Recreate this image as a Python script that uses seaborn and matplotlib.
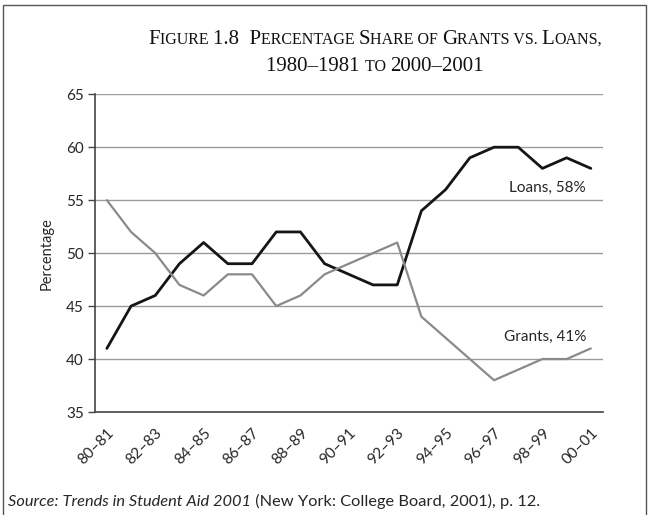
import matplotlib
matplotlib.use("Agg")
import matplotlib.pyplot as plt
import seaborn as sns
import pandas as pd
from matplotlib.offsetbox import TextArea, HPacker, VPacker, AnchoredOffsetbox
from matplotlib.patches import Rectangle

# academic years, 1980-81 through 2000-01
years = ["80–81", "81–82", "82–83", "83–84", "84–85", "85–86", "86–87",
         "87–88", "88–89", "89–90", "90–91", "91–92", "92–93", "93–94",
         "94–95", "95–96", "96–97", "97–98", "98–99", "99–00", "00–01"]
loans = [41, 45, 46, 49, 51, 49, 49, 52, 52, 49, 48, 47, 47, 54, 56, 59, 60, 60, 58, 59, 58]
grants = [55, 52, 50, 47, 46, 48, 48, 45, 46, 48, 49, 50, 51, 44, 42, 40, 38, 39, 40, 40, 41]
y_ticks = [35, 40, 45, 50, 55, 60, 65]

sns.set_style("white")
plt.rcParams["font.family"] = ["Lato", "DejaVu Sans"]

df = pd.DataFrame({"pos": list(range(len(years))) * 2,
                   "value": loans + grants,
                   "series": ["Loans"] * len(years) + ["Grants"] * len(years)})

fig = plt.figure(figsize=(6.49, 5.15), dpi=100)
ax = fig.add_axes([0.146, 0.2, 0.783, 0.617])

sns.lineplot(data=df[df.series == "Loans"], x="pos", y="value", color="#151515",
             linewidth=2.0, ax=ax, legend=False)
sns.lineplot(data=df[df.series == "Grants"], x="pos", y="value", color="#8a8a8a",
             linewidth=1.6, ax=ax, legend=False)

ax.set_xlim(-0.5, len(years) - 0.5)
ax.set_ylim(35, 65)
ax.set_yticks(y_ticks)
for y in y_ticks[1:]:
    ax.axhline(y, color="#9a9a9a", linewidth=1.0, zorder=0)

ax.set_xticks(range(0, len(years), 2))
ax.set_xticklabels(years[::2], rotation=45, ha="right", rotation_mode="anchor", fontsize=11)
ax.set_xticks([i - 0.5 for i in range(len(years) + 1)], minor=True)
ax.tick_params(axis="x", which="major", length=0, pad=10)
ax.tick_params(axis="x", which="minor", length=6, width=1, color="#444444", direction="out")
ax.tick_params(axis="y", length=5, width=1, color="#444444", direction="out", labelsize=11, pad=3)
ax.tick_params(bottom=True, left=True)

for side in ["top", "right"]:
    ax.spines[side].set_visible(False)
for side in ["left", "bottom"]:
    ax.spines[side].set_color("#444444")
    ax.spines[side].set_linewidth(1.2)

ax.set_xlabel("")
ax.set_ylabel("Percentage", fontsize=10.5, labelpad=9)

ax.text(len(years) - 1.2, 56.2, "Loans, 58%", ha="right", va="center", fontsize=11)
ax.text(len(years) - 1.2, 42.1, "Grants, 41%", ha="right", va="center", fontsize=11)


def small_caps(text, big, small):
    parts = []
    for ch in text:
        lower = ch.islower()
        if not ch.isalnum() and parts:
            lower = parts[-1][1]
        if parts and parts[-1][1] == lower:
            parts[-1][0] += ch
        else:
            parts.append([ch, lower])
    boxes = []
    for s, lower in parts:
        size = small if lower else big
        boxes.append(TextArea(s.upper(), textprops=dict(fontsize=size, family="Liberation Serif",
                                                        color="#111111")))
    return HPacker(children=boxes, align="baseline", pad=0, sep=0)


line1 = small_caps("Figure 1.8  Percentage Share of Grants vs. Loans,", 15, 11.5)
line2 = small_caps("1980–1981 to 2000–2001", 15, 11.5)
title = VPacker(children=[line1, line2], align="center", pad=0, sep=6)
fig.add_artist(AnchoredOffsetbox(loc="center", child=title, frameon=False,
                                 bbox_to_anchor=(0.578, 0.897), bbox_transform=fig.transFigure,
                                 borderpad=0, pad=0))

src = HPacker(children=[
    TextArea("Source: Trends in Student Aid 2001", textprops=dict(fontsize=11.8, style="italic")),
    TextArea(" (New York: College Board, 2001), p. 12.", textprops=dict(fontsize=11.8)),
], align="baseline", pad=0, sep=0)
fig.add_artist(AnchoredOffsetbox(loc="center left", child=src, frameon=False,
                                 bbox_to_anchor=(0.012, 0.027), bbox_transform=fig.transFigure,
                                 borderpad=0, pad=0))

fig.add_artist(Rectangle((0.005, -0.02), 0.99, 1.01, transform=fig.transFigure,
                         fill=False, edgecolor="#555555", linewidth=1.0))

fig.savefig("out.png", dpi=100)
